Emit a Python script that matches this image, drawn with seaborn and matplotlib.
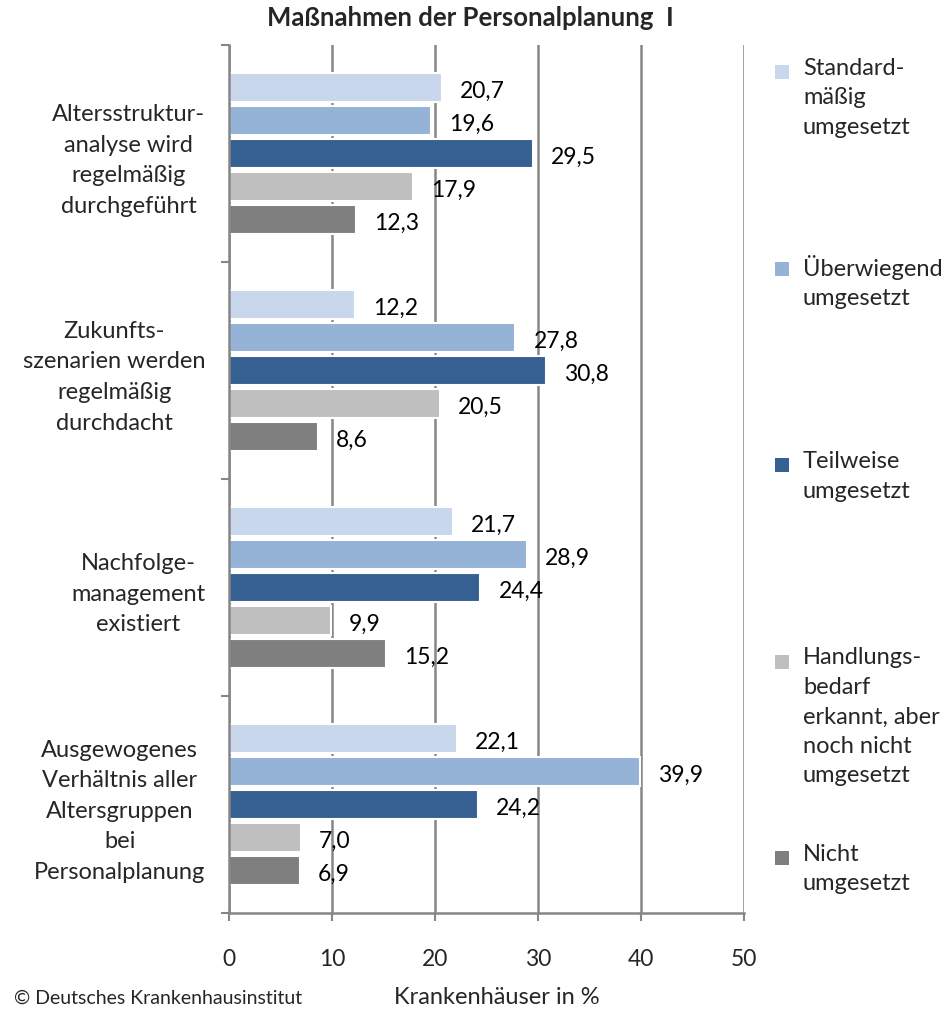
import pandas as pd
import matplotlib.pyplot as plt
import seaborn as sns
from matplotlib.patches import Rectangle

# categories (y axis) and series (hue)
categories = [
    "Altersstruktur-\nanalyse wird\nregelmäßig\ndurchgeführt",
    "Zukunfts-\nszenarien werden\nregelmäßig\ndurchdacht",
    "Nachfolge-\nmanagement\nexistiert",
    "Ausgewogenes\nVerhältnis aller\nAltersgruppen\nbei\nPersonalplanung",
]
series = [
    "Standard-\nmäßig\numgesetzt",
    "Überwiegend\numgesetzt",
    "Teilweise\numgesetzt",
    "Handlungs-\nbedarf\nerkannt, aber\nnoch nicht\numgesetzt",
    "Nicht\numgesetzt",
]
standard = [20.7, 12.2, 21.7, 22.1]
ueberwiegend = [19.6, 27.8, 28.9, 39.9]
teilweise = [29.5, 30.8, 24.4, 24.2]
handlungsbedarf = [17.9, 20.5, 9.9, 7.0]
nicht = [12.3, 8.6, 15.2, 6.9]
colors = ["#C8D7EB", "#95B3D7", "#366092", "#BFBFBF", "#7F7F7F"]

# long form table for seaborn
values = [standard, ueberwiegend, teilweise, handlungsbedarf, nicht]
rows = []
for s, vals in zip(series, values):
    for c, v in zip(categories, vals):
        rows.append({"Kategorie": c, "Serie": s, "Wert": v})
df = pd.DataFrame(rows)

sns.set_theme(style="white")
plt.rcParams['font.family'] = ['Lato', 'DejaVu Sans']

fig = plt.figure(figsize=(9.49, 10.10), dpi=100)
ax = fig.add_axes([229 / 949, 1 - 913 / 1010, (744 - 229) / 949, (913 - 45) / 1010])

sns.barplot(data=df, y="Kategorie", x="Wert", hue="Serie", order=categories,
            hue_order=series, palette=colors, saturation=1, orient="h", width=0.76,
            gap=0.12, edgecolor="white", linewidth=1.5, legend=False, ax=ax)

# value labels with German decimal comma, sitting a touch below bar centre
for cont, vals in zip(ax.containers, values):
    texts = ax.bar_label(cont, labels=[f"{v:.1f}".replace(".", ",") for v in vals],
                         padding=13, fontsize=16.5, color="black")
    for t in texts:
        t.xyann = (13, -3)

gray = "#868686"
ax.set_xlim(0, 50)
ax.set_ylim(len(categories) - 0.5, -0.5)
ax.set_xticks(range(0, 51, 10))
ax.tick_params(axis="x", length=6, width=1.5, color=gray, pad=20, labelsize=16.5,
               direction="out", bottom=True)
ax.xaxis.grid(True, color=gray, linewidth=1.8)
ax.yaxis.grid(False)
ax.set_axisbelow(True)

# separators as major ticks, labels as minor ticks
ax.set_yticks([i - 0.5 for i in range(len(categories) + 1)], labels=[""] * (len(categories) + 1))
ax.set_yticks(range(len(categories)), labels=categories, minor=True)
ax.tick_params(axis="y", which="major", length=6, width=1.5, color=gray, direction="out", left=True)
ax.tick_params(axis="y", which="minor", length=0, pad=17, labelsize=17)
for lab in ax.get_yticklabels(minor=True):
    lab.set_multialignment("center")
    lab.set_linespacing(1.56)

for side in ["top", "right"]:
    ax.spines[side].set_visible(False)
for side in ["left", "bottom"]:
    ax.spines[side].set_color(gray)
    ax.spines[side].set_linewidth(1.8)
ax.set_xlabel("")
ax.set_ylabel("")

# legend drawn by hand, entries evenly spaced
for i, (s, col) in enumerate(zip(series, colors)):
    ytop = 58 + i * 196.5
    fig.add_artist(Rectangle((775 / 949, 1 - (ytop + 21) / 1010), 14 / 949, 14 / 1010,
                             transform=fig.transFigure, facecolor=col, edgecolor="none"))
    fig.text(803 / 949, 1 - ytop / 1010, s, ha="left", va="top", fontsize=17,
             linespacing=1.5)

fig.text(470 / 949, 1 - 18 / 1010, "Maßnahmen der Personalplanung  I", ha="center",
         va="center", fontsize=18.5, fontweight="bold")
fig.text(497 / 949, 1 - 998 / 1010, "Krankenhäuser in %", ha="center", va="center", fontsize=17)
fig.text(14 / 949, 1 - 998 / 1010, "© Deutsches Krankenhausinstitut", ha="left", va="center",
         fontsize=14)

fig.savefig("out.png", dpi=100)
